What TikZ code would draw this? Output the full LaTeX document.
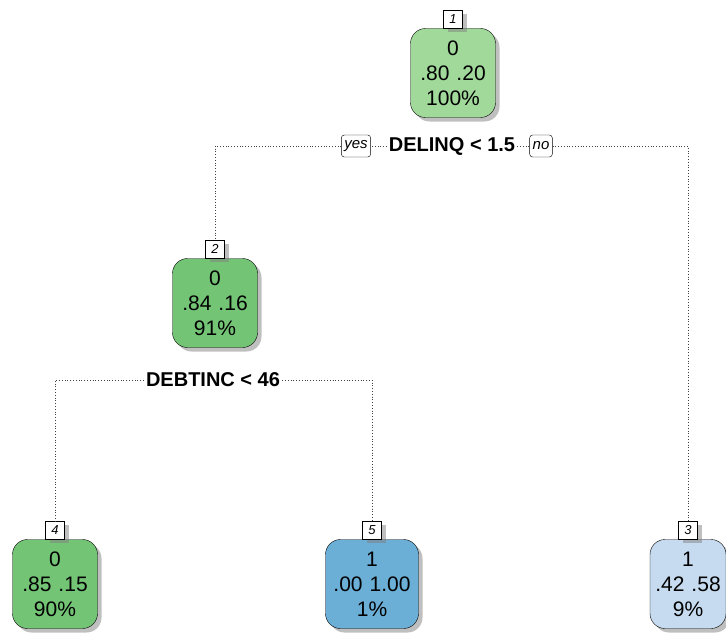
\documentclass[tikz,border=0pt]{standalone}
\usepackage{fontspec}
\setmainfont{Liberation Sans}
\usetikzlibrary{positioning,shadows}

\definecolor{greenA}{HTML}{A1D99B}
\definecolor{greenB}{HTML}{74C476}
\definecolor{blueA}{HTML}{6BAED6}
\definecolor{blueB}{HTML}{C6DBEF}

\newcommand{\gap}{\hspace{7pt}}

\tikzset{
  shade/.style={drop shadow={shadow xshift=4pt,shadow yshift=-4pt,fill=black!50,opacity=.5}},
  leaf/.style={draw,shade,rounded corners=15pt,minimum height=89pt,inner sep=1pt,
    align=center,font=\fontsize{21}{25}\selectfont},
  nodeno/.style={draw,fill=white,shade,minimum width=19pt,minimum height=18pt,inner sep=1pt,
    font=\fontsize{13}{13}\selectfont\itshape},
  splittxt/.style={fill=white,inner sep=2pt,font=\fontsize{20}{20}\selectfont\bfseries},
  branch/.style={draw,fill=white,rounded corners=3pt,minimum height=22pt,inner sep=3pt,
    font=\fontsize{15}{15}\selectfont\itshape},
  link/.style={draw=black!75,line width=.8pt,dash pattern=on .8pt off 2pt}
}

\begin{document}
\begin{tikzpicture}[x=1pt,y=-1pt]
\useasboundingbox (0,0) rectangle (726,634);

% root
\node[leaf,fill=greenA,minimum width=85pt] (n1) at (453,73) {0\\.80\gap.20\\100\%};
\node[nodeno,above=0pt of n1] (k1) {1};
\node[splittxt] (s1) at (452,146) {DELINQ < 1.5};
\node[branch] (yes) at (356,146) {yes};
\node[branch] (no) at (541,146) {no};

% left child
\node[leaf,fill=greenB,minimum width=85pt] (n2) at (215,303) {0\\.84\gap.16\\91\%};
\node[nodeno,above=0pt of n2] (k2) {2};
\node[splittxt] (s2) at (213,380) {DEBTINC < 46};

% leaves
\node[leaf,fill=greenB,minimum width=85pt] (n4) at (55,584) {0\\.85\gap.15\\90\%};
\node[nodeno,above=0pt of n4] (k4) {4};
\node[leaf,fill=blueA,minimum width=93pt] (n5) at (372,584) {1\\.00\gap1.00\\1\%};
\node[nodeno,above=0pt of n5] (k5) {5};
\node[leaf,fill=blueB,minimum width=76pt] (n3) at (688,584) {1\\.42\gap.58\\9\%};
\node[nodeno,above=0pt of n3] (k3) {3};

% branches
\draw[link] (s1.west) -- (yes.east);
\draw[link] (s1.east) -- (no.west);
\draw[link] (yes.west) -| (k2.north);
\draw[link] (no.east) -| (k3.north);
\draw[link] (s2.west) -| (k4.north);
\draw[link] (s2.east) -| (k5.north);
\end{tikzpicture}
\end{document}
